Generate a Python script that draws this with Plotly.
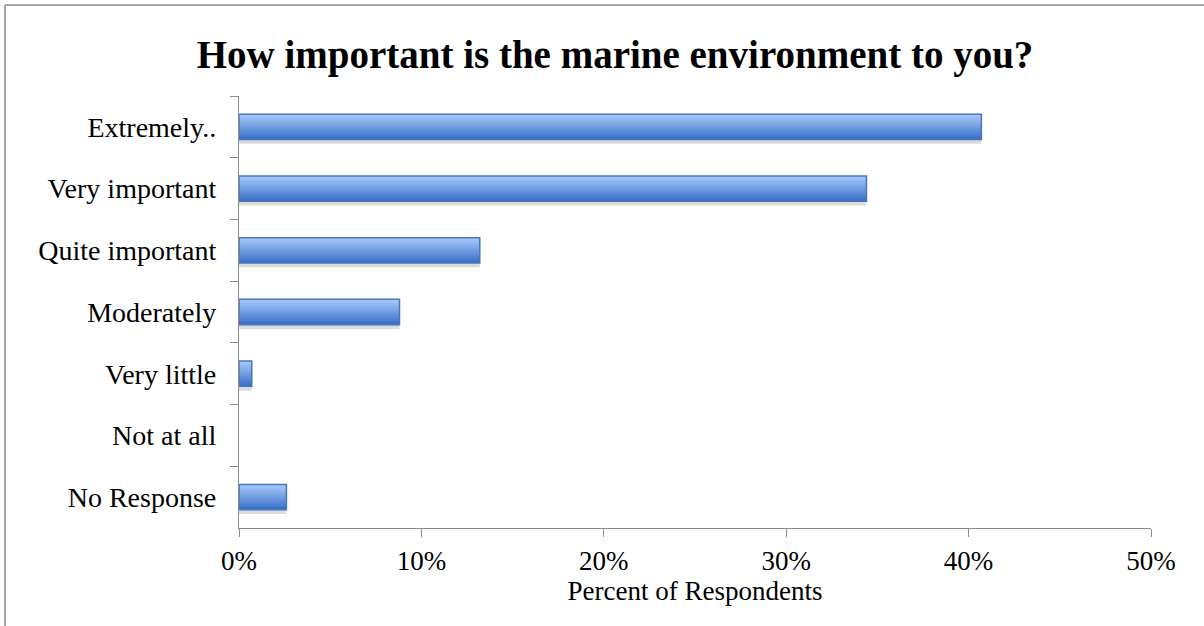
import plotly.graph_objects as go

categories = ["Extremely..", "Very important", "Quite important", "Moderately",
              "Very little", "Not at all", "No Response"]
percent = [40.7, 34.4, 13.2, 8.8, 0.7, 0.0, 2.6]
x_ticks = [0, 10, 20, 30, 40, 50]
x_tick_labels = ["0%", "10%", "20%", "30%", "40%", "50%"]

title_text = "How important is the marine environment to you?"
x_title = "Percent of Respondents"

W, H = 1204, 626
L, R, T, B = 239, 53, 96, 98
PW, PH = W - L - R, H - T - B

def px_x(px):
    return (px - L) / PW

def px_y(py):
    return (H - B - py) / PH

bar_w = 0.41
n_strips = 14
top_col = (166, 200, 250)
bot_col = (60, 113, 199)

fig = go.Figure()

# shadow
fig.add_trace(go.Bar(
    y=categories, x=percent, orientation="h",
    width=bar_w, offset=-bar_w / 2 + 0.07,
    marker=dict(color="rgba(0,0,0,0.14)", line=dict(width=0)),
    hoverinfo="skip", showlegend=False,
))
# gradient: layered strips, each reaching to the bottom edge of the bar
for k in range(n_strips):
    t = k / (n_strips - 1)
    c = tuple(int(round(top_col[i] + (bot_col[i] - top_col[i]) * t)) for i in range(3))
    start = k * bar_w / n_strips
    fig.add_trace(go.Bar(
        y=categories, x=percent, orientation="h",
        width=bar_w - start,
        offset=-bar_w / 2 + start,
        marker=dict(color="rgb(%d,%d,%d)" % c, line=dict(width=0)),
        hoverinfo="skip", showlegend=False,
    ))
# outline
fig.add_trace(go.Bar(
    y=categories, x=[v if v > 0 else None for v in percent], orientation="h",
    width=bar_w, offset=-bar_w / 2,
    marker=dict(color="rgba(0,0,0,0)", line=dict(color="#4677bd", width=1.5)),
    showlegend=False,
))

axis_col = "#8c8c8c"
font_family = "Liberation Serif, Times New Roman, serif"

fig.update_layout(
    width=W, height=H,
    margin=dict(l=L, r=R, t=T, b=B),
    paper_bgcolor="white", plot_bgcolor="white",
    barmode="overlay",
    showlegend=False,
    font=dict(family=font_family, color="black", size=27),
    title=dict(
        text="<b>" + title_text + "</b>",
        font=dict(family=font_family, size=39, color="black"),
        x=615 / W, xanchor="center", xref="container",
        y=1 - 54 / H, yanchor="middle", yref="container",
    ),
    xaxis=dict(
        range=[0, 50], tickvals=x_ticks, ticktext=x_tick_labels,
        showgrid=False, zeroline=False,
        showline=True, linecolor=axis_col, linewidth=1.3,
        ticks="outside", ticklen=8, tickcolor=axis_col, tickwidth=1.3,
        tickfont=dict(size=27, family=font_family),
        title=dict(text=x_title, font=dict(size=27, family=font_family), standoff=2),
        fixedrange=True,
    ),
    yaxis=dict(
        type="category", categoryorder="array", categoryarray=categories,
        autorange="reversed",
        showgrid=False, zeroline=False,
        showline=True, linecolor=axis_col, linewidth=1.3,
        ticks="outside", ticklen=8, tickcolor=axis_col, tickwidth=1.3,
        tickson="boundaries",
        tickfont=dict(size=28, family=font_family),
        ticklabelstandoff=16,
        fixedrange=True,
    ),
    shapes=[
        dict(type="line", xref="paper", yref="paper",
             x0=px_x(5), x1=px_x(1210), y0=px_y(5), y1=px_y(5),
             line=dict(color="#8a8a8a", width=1.5)),
        dict(type="line", xref="paper", yref="paper",
             x0=px_x(5), x1=px_x(5), y0=px_y(5), y1=px_y(630),
             line=dict(color="#8a8a8a", width=1.5)),
    ],
)

fig.write_html("out.html")
